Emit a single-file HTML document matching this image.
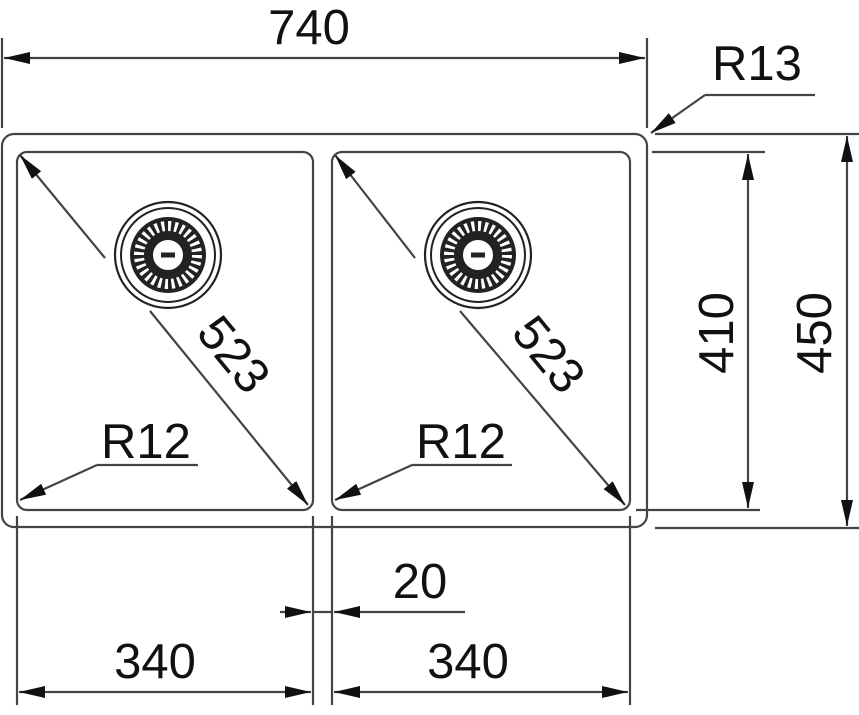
<!DOCTYPE html>
<html><head><meta charset="utf-8"><style>
html,body{margin:0;padding:0;background:#fff;width:859px;height:715px;overflow:hidden}
svg{display:block}
text{font-family:"Liberation Sans",sans-serif;font-size:49px;fill:#111}
</style></head><body>
<svg width="859" height="715" viewBox="0 0 859 715" xmlns="http://www.w3.org/2000/svg">
<defs>
<marker id="a" viewBox="0 0 26 12" refX="26" refY="6" markerWidth="26" markerHeight="12" markerUnits="userSpaceOnUse" orient="auto-start-reverse"><path d="M0,0 L26,6 L0,12 z" fill="#111"/></marker>
</defs>
<g fill="none" stroke="#444" stroke-width="2.2">
<rect x="2" y="134" width="645" height="393" rx="12"/>
<rect x="17" y="152" width="296" height="358" rx="10"/>
<rect x="332" y="152" width="298" height="358" rx="10"/>
<line x1="2" y1="38" x2="2" y2="128"/>
<line x1="647" y1="38" x2="647" y2="128"/>
<line x1="4" y1="58" x2="645" y2="58" marker-start="url(#a)" marker-end="url(#a)"/>
<line x1="705" y1="95" x2="815" y2="95"/>
<line x1="705" y1="95" x2="651" y2="133" marker-end="url(#a)"/>
<line x1="652" y1="152" x2="765" y2="152"/>
<line x1="636" y1="510" x2="760" y2="510"/>
<line x1="655" y1="134" x2="859" y2="134"/>
<line x1="655" y1="528" x2="859" y2="528"/>
<line x1="748" y1="154" x2="748" y2="508" marker-start="url(#a)" marker-end="url(#a)"/>
<line x1="847" y1="136" x2="847" y2="526" marker-start="url(#a)" marker-end="url(#a)"/>
<line x1="17" y1="516" x2="17" y2="705"/>
<line x1="313" y1="516" x2="313" y2="705"/>
<line x1="332" y1="516" x2="332" y2="705"/>
<line x1="630" y1="516" x2="630" y2="705"/>
<line x1="19" y1="692" x2="311" y2="692" marker-start="url(#a)" marker-end="url(#a)"/>
<line x1="334" y1="692" x2="628" y2="692" marker-start="url(#a)" marker-end="url(#a)"/>
<line x1="280" y1="612" x2="311" y2="612" marker-end="url(#a)"/>
<line x1="465" y1="612" x2="334" y2="612" marker-end="url(#a)"/>
<line x1="313" y1="612" x2="332" y2="612"/>
<line x1="105" y1="258" x2="20" y2="155" marker-end="url(#a)"/>
<line x1="150" y1="311" x2="308" y2="505" marker-end="url(#a)"/>
<line x1="97" y1="465" x2="198" y2="465"/>
<line x1="97" y1="465" x2="20" y2="500" marker-end="url(#a)"/>
<line x1="415" y1="258" x2="335" y2="155" marker-end="url(#a)"/>
<line x1="460" y1="311" x2="625" y2="505" marker-end="url(#a)"/>
<line x1="412" y1="465" x2="512" y2="465"/>
<line x1="412" y1="465" x2="335" y2="500" marker-end="url(#a)"/>
</g>
<g>
<g transform="translate(168,255)">
<circle r="53" fill="none" stroke="#222" stroke-width="2.2"/>
<circle r="47" fill="none" stroke="#222" stroke-width="2"/>
<circle r="38" fill="#222"/>
<circle r="29" fill="none" stroke="#fff" stroke-width="10" stroke-dasharray="3 3.5"/>
<circle r="16" fill="#fff" stroke="#222" stroke-width="2"/>
<rect x="-7" y="-2.5" width="14" height="5" fill="#222"/>
</g>
<g transform="translate(478,255)">
<circle r="53" fill="none" stroke="#222" stroke-width="2.2"/>
<circle r="47" fill="none" stroke="#222" stroke-width="2"/>
<circle r="38" fill="#222"/>
<circle r="29" fill="none" stroke="#fff" stroke-width="10" stroke-dasharray="3 3.5"/>
<circle r="16" fill="#fff" stroke="#222" stroke-width="2"/>
<rect x="-7" y="-2.5" width="14" height="5" fill="#222"/>
</g>
</g>
<text x="309" y="44" text-anchor="middle">740</text>
<text x="757" y="80" text-anchor="middle">R13</text>
<text x="146" y="458" text-anchor="middle">R12</text>
<text x="461" y="458" text-anchor="middle">R12</text>
<text x="420" y="598" text-anchor="middle">20</text>
<text x="155" y="678" text-anchor="middle">340</text>
<text x="468" y="678" text-anchor="middle">340</text>
<text transform="translate(733,333) rotate(-90)" text-anchor="middle">410</text>
<text transform="translate(831,333) rotate(-90)" text-anchor="middle">450</text>
<text transform="translate(221,365) rotate(50.6)" text-anchor="middle">523</text>
<text transform="translate(536,365) rotate(50.6)" text-anchor="middle">523</text>
</svg>
</body></html>
